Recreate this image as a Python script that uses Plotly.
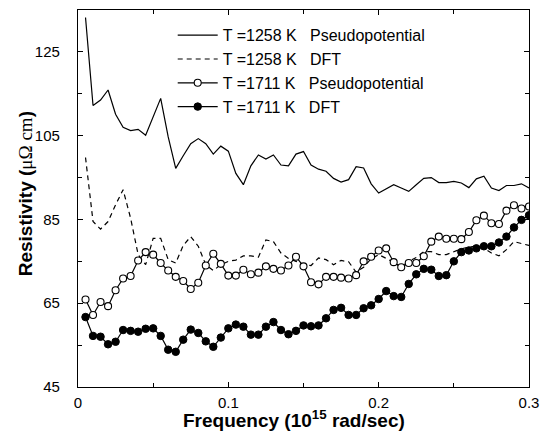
import plotly.graph_objects as go

freq = [round(0.005 * i, 3) for i in range(1, 61)]

pseudo_1258 = [133.2, 112.2, 113.5, 115.9, 110.1, 107.0, 106.2, 106.5, 105.1, 109.4,
               113.9, 104.7, 97.2, 100.2, 103.1, 104.3, 103.1, 100.6, 102.5, 101.3,
               96.0, 93.3, 97.8, 100.4, 99.4, 100.4, 98.0, 97.8, 100.6, 101.2,
               98.0, 97.0, 96.5, 94.8, 93.9, 94.5, 97.6, 97.3, 93.5, 91.3,
               92.3, 93.3, 92.5, 91.7, 93.3, 94.8, 95.0, 93.8, 93.8, 94.1,
               93.7, 92.6, 94.7, 95.3, 92.5, 91.9, 93.1, 93.1, 93.5, 92.5]

dft_1258 = [99.8, 84.5, 82.7, 84.5, 88.5, 92.1, 85.3, 76.6, 74.2, 80.5,
            80.5, 75.4, 74.6, 78.8, 80.9, 78.6, 74.2, 72.8, 74.2, 75.0,
            75.3, 76.3, 76.3, 76.0, 80.1, 79.7, 77.0, 75.7, 75.0, 74.2,
            74.0, 75.8, 75.4, 74.2, 75.2, 74.9, 72.4, 73.6, 75.6, 76.6,
            75.7, 74.8, 73.6, 75.0, 75.9, 77.3, 77.3, 76.6, 76.6, 77.3,
            78.0, 78.4, 78.6, 78.1, 77.0, 76.3, 77.8, 79.7, 79.3, 78.8]

pseudo_1711 = [65.9, 62.2, 65.3, 64.3, 68.1, 70.9, 71.5, 75.2, 77.2, 76.6,
               74.6, 72.8, 71.3, 70.3, 68.4, 69.9, 74.0, 76.8, 74.4, 71.6,
               71.6, 73.0, 71.9, 72.3, 73.8, 73.2, 72.8, 74.0, 76.1, 73.8,
               70.0, 69.5, 71.3, 71.3, 71.1, 70.9, 71.7, 75.0, 76.1, 77.6,
               78.1, 74.8, 73.6, 74.6, 74.6, 76.2, 79.7, 80.9, 80.4, 80.4,
               80.3, 82.0, 84.8, 85.9, 84.1, 83.9, 87.1, 88.4, 87.6, 88.1]

dft_1711 = [61.7, 57.2, 57.0, 55.2, 55.8, 58.6, 58.4, 58.2, 58.9, 59.0,
            57.2, 53.9, 53.4, 56.3, 58.7, 57.9, 55.9, 54.6, 56.8, 59.0,
            59.9, 59.4, 57.5, 57.5, 59.4, 60.5, 58.6, 57.6, 58.4, 59.7,
            59.5, 59.7, 61.4, 63.4, 63.9, 62.2, 62.2, 63.8, 64.5, 66.0,
            67.9, 66.7, 66.5, 69.6, 71.9, 73.2, 73.0, 71.5, 71.7, 75.0,
            77.2, 77.6, 78.1, 78.6, 78.6, 79.5, 80.9, 83.1, 84.9, 86.0]

GAP = "\u00a0" * 3
names = ["T =1258 K" + GAP + "Pseudopotential",
         "T =1258 K" + GAP + "DFT",
         "T =1711 K" + GAP + "Pseudopotential",
         "T =1711 K" + GAP + "DFT"]

x_ticks = [0, 0.1, 0.2, 0.3]
x_ticklabels = ["0", "0.1", "0.2", "0.3"]
y_ticks = [45, 65, 85, 105, 125]

FONT = "Liberation Sans, Arial, Helvetica, sans-serif"

fig = go.Figure()
fig.add_trace(go.Scatter(x=freq, y=pseudo_1258, mode="lines", name=names[0],
                         line=dict(color="black", width=1.2)))
fig.add_trace(go.Scatter(x=freq, y=dft_1258, mode="lines", name=names[1],
                         line=dict(color="black", width=1.2, dash="5px,4px")))
fig.add_trace(go.Scatter(x=freq, y=pseudo_1711, mode="lines+markers", name=names[2],
                         line=dict(color="black", width=1.2),
                         marker=dict(symbol="circle", size=7, color="white",
                                     line=dict(color="black", width=1.1))))
fig.add_trace(go.Scatter(x=freq, y=dft_1711, mode="lines+markers", name=names[3],
                         line=dict(color="black", width=1.2),
                         marker=dict(symbol="circle", size=7.5, color="black",
                                     line=dict(color="black", width=1))))

fig.update_layout(
    width=548, height=437,
    margin=dict(l=78, r=13, t=9, b=50),
    paper_bgcolor="white", plot_bgcolor="white",
    font=dict(family=FONT, size=15, color="black"),
    showlegend=True,
    legend=dict(x=0.21, y=0.978, xanchor="left", yanchor="top",
                bgcolor="rgba(0,0,0,0)", borderwidth=0,
                font=dict(family=FONT, size=16, color="black"),
                tracegroupgap=0, itemwidth=40),
    xaxis=dict(range=[0, 0.3], tickvals=x_ticks, ticktext=x_ticklabels,
               ticks="inside", ticklen=5, tickwidth=1, tickcolor="black",
               minor=dict(dtick=0.05, ticks="inside", ticklen=4, tickcolor="black", tickwidth=1),
               showline=True, linecolor="black", linewidth=1.3, mirror="ticks",
               showgrid=False, zeroline=False, ticklabelstandoff=2,
               tickfont=dict(size=15)),
    yaxis=dict(range=[45, 135], tickvals=y_ticks,
               ticks="inside", ticklen=5, tickwidth=1, tickcolor="black",
               minor=dict(dtick=10, tick0=45, ticks="inside", ticklen=4, tickcolor="black", tickwidth=1),
               showline=True, linecolor="black", linewidth=1.3, mirror="ticks",
               showgrid=False, zeroline=False, ticklabelstandoff=14,
               tickfont=dict(size=15)),
)

fig.add_annotation(text="<b>Frequency (10<sup>15</sup> rad/sec)</b>",
                   xref="paper", yref="paper", x=0.479, y=-0.085,
                   xanchor="center", yanchor="middle", showarrow=False,
                   font=dict(family=FONT, size=19, color="black"))
fig.add_annotation(text="<b>Resistivity (</b><span style='font-family:Liberation Serif'>\u03bc\u03a9 cm</span><b>)</b>",
                   xref="paper", yref="paper", x=-0.116, y=0.513,
                   xanchor="center", yanchor="middle", textangle=-90, showarrow=False,
                   font=dict(family=FONT, size=19, color="black"))

fig.write_html("out.html")
